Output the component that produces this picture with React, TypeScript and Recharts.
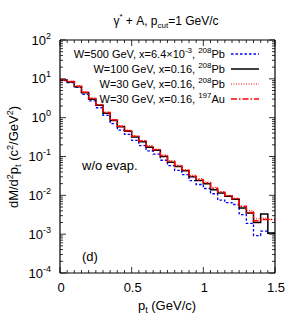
import { ComposedChart, Line, XAxis, YAxis } from 'recharts';

// bin edges in p_t (GeV/c), histogram bins of 0.05
const ptEdges = [
  0, 0.05, 0.1, 0.15, 0.2, 0.25, 0.3, 0.35, 0.4, 0.45, 0.5, 0.55, 0.6, 0.65, 0.7, 0.75,
  0.8, 0.85, 0.9, 0.95, 1, 1.05, 1.1, 1.15, 1.2, 1.25, 1.3, 1.35, 1.4, 1.45, 1.5,
];

// dM/d^2p_t per bin
const w500Pb = [
  9.0, 8.0, 6.0, 4.0, 2.7, 1.8, 1.15, 0.7, 0.48, 0.37, 0.26, 0.19, 0.14, 0.115, 0.08,
  0.058, 0.044, 0.034, 0.024, 0.019, 0.015, 0.011, 0.0075, 0.0065, 0.0058, 0.0032, 0.0019,
  0.00092, 0.0012, 0.00105,
];
const w100Pb = [
  9.3, 8.3, 6.3, 4.4, 3.0, 2.1, 1.3, 0.85, 0.58, 0.45, 0.32, 0.24, 0.174, 0.145, 0.1,
  0.071, 0.055, 0.043, 0.03, 0.024, 0.02, 0.014, 0.0115, 0.0095, 0.0079, 0.0047, 0.0035,
  0.002, 0.0033, 0.00107,
];
const w30Pb = [
  9.5, 8.6, 6.6, 4.6, 3.2, 2.2, 1.4, 0.9, 0.62, 0.48, 0.34, 0.26, 0.19, 0.155, 0.11,
  0.078, 0.06, 0.046, 0.033, 0.027, 0.022, 0.016, 0.0125, 0.01, 0.0085, 0.0052, 0.004,
  0.0025, 0.0026, 0.0024,
];
const w30Au = [
  9.4, 8.5, 6.4, 4.5, 3.1, 2.15, 1.35, 0.87, 0.6, 0.46, 0.33, 0.25, 0.18, 0.15, 0.105,
  0.074, 0.057, 0.044, 0.031, 0.025, 0.021, 0.015, 0.012, 0.0098, 0.0082, 0.0052, 0.0036,
  0.0022, 0.0024, 0.0024,
];

const yDecades = [1e-4, 1e-3, 1e-2, 1e-1, 1, 10, 100];
const yExponents = ['-4', '-3', '-2', '-1', '0', '1', '2'];
const xMajor = [0, 0.5, 1, 1.5];
const xLabels = ['0', '0.5', '1', '1.5'];

const W = 300;
const H = 332;
const FONT = '"Liberation Sans", Arial, sans-serif';

const nBins = w100Pb.length;
const rows = ptEdges.map((pt, i) => {
  const j = Math.min(i, nBins - 1);
  return { pt, a: w500Pb[j], b: w100Pb[j], c: w30Pb[j], d: w30Au[j] };
});

const yTicks: number[] = [];
yDecades.forEach((d, i) => {
  if (i === yDecades.length - 1) {
    yTicks.push(d);
    return;
  }
  for (let k = 1; k <= 9; k++) yTicks.push(k * d);
});

const majorY = (v: number) => yDecades.findIndex((d) => Math.abs(v / d - 1) < 1e-6);
const majorX = (v: number) => xMajor.findIndex((d) => Math.abs(v - d) < 1e-6);

const LeftTick = (props: any) => {
  const { x, y, payload } = props;
  const idx = majorY(payload.value);
  const len = idx >= 0 ? 6 : 3;
  return (
    <g>
      <line x1={x} x2={x + len} y1={y} y2={y} stroke="#000" strokeWidth={0.8} />
      {idx >= 0 && (
        <text x={x - 9} y={y + 4.5} textAnchor="end" fontSize={13} fontFamily={FONT} fill="#000">
          10<tspan dy={-6} fontSize={9}>{yExponents[idx]}</tspan>
        </text>
      )}
    </g>
  );
};

const RightTick = (props: any) => {
  const { x, y, payload } = props;
  const len = majorY(payload.value) >= 0 ? 6 : 3;
  return <line x1={x} x2={x - len} y1={y} y2={y} stroke="#000" strokeWidth={0.8} />;
};

const BottomTick = (props: any) => {
  const { x, y, payload } = props;
  const idx = majorX(payload.value);
  const len = idx >= 0 ? 6 : 3;
  return (
    <g>
      <line x1={x} x2={x} y1={y} y2={y - len} stroke="#000" strokeWidth={0.8} />
      {idx >= 0 && (
        <text x={x + 1} y={y + 19} textAnchor="middle" fontSize={13} fontFamily={FONT} fill="#000">
          {xLabels[idx]}
        </text>
      )}
    </g>
  );
};

const TopTick = (props: any) => {
  const { x, y, payload } = props;
  const len = majorX(payload.value) >= 0 ? 6 : 3;
  return <line x1={x} x2={x} y1={y} y2={y + len} stroke="#000" strokeWidth={0.8} />;
};

const legendRows = [
  { key: 'a', stroke: '#0000ff', dash: '2.5 2', width: 1.3, pre: 'W=500 GeV, x=6.4×10', exp: '-3', iso: '208', el: 'Pb' },
  { key: 'b', stroke: '#000000', dash: undefined, width: 1.5, pre: 'W=100 GeV, x=0.16', exp: '', iso: '208', el: 'Pb' },
  { key: 'c', stroke: '#ff0000', dash: '1 1.5', width: 1, pre: 'W=30 GeV, x=0.16', exp: '', iso: '208', el: 'Pb' },
  { key: 'd', stroke: '#ff0000', dash: '6 2 1.5 2', width: 1.5, pre: 'W=30 GeV, x=0.16', exp: '', iso: '197', el: 'Au' },
];

const LegendBox = () => (
  <div
    style={{
      position: 'absolute',
      top: 46,
      left: 40,
      width: 224,
      fontFamily: FONT,
      fontSize: 11,
      color: '#000',
      lineHeight: 1,
    }}
  >
    {legendRows.map((r) => (
      <div key={r.key} style={{ display: 'flex', alignItems: 'center', height: 15, justifyContent: 'flex-end' }}>
        <span style={{ whiteSpace: 'nowrap' }}>
          {r.pre}
          {r.exp && <sup style={{ fontSize: 8 }}>{r.exp}</sup>}, <sup style={{ fontSize: 8 }}>{r.iso}</sup>
          {r.el}
        </span>
        <svg width={34} height={10} style={{ marginLeft: 5 }}>
          <line x1={1} x2={29} y1={5} y2={5} stroke={r.stroke} strokeWidth={r.width} strokeDasharray={r.dash} />
        </svg>
      </div>
    ))}
  </div>
);

export default function App() {
  return (
    <div style={{ position: 'absolute', left: 0, top: 0, width: W, height: H, background: '#fff' }}>
      <ComposedChart width={W} height={H} data={rows} margin={{ top: 30, right: 15, bottom: 29, left: 10 }}>
        <XAxis
          xAxisId="b"
          dataKey="pt"
          type="number"
          domain={[0, 1.5]}
          ticks={ptEdges}
          interval={0}
          height={30}
          tickSize={0}
          tickMargin={0}
          tickLine={false}
          tick={BottomTick}
          axisLine={{ stroke: '#000', strokeWidth: 1.2 }}
          allowDataOverflow
        />
        <XAxis
          xAxisId="t"
          orientation="top"
          dataKey="pt"
          type="number"
          domain={[0, 1.5]}
          ticks={ptEdges}
          interval={0}
          height={10}
          tickSize={0}
          tickMargin={0}
          tickLine={false}
          tick={TopTick}
          axisLine={{ stroke: '#000', strokeWidth: 1.2 }}
          allowDataOverflow
        />
        <YAxis
          yAxisId="l"
          type="number"
          scale="log"
          domain={[1e-4, 100]}
          ticks={yTicks}
          interval={0}
          width={50}
          tickSize={0}
          tickMargin={0}
          tickLine={false}
          tick={LeftTick}
          axisLine={{ stroke: '#000', strokeWidth: 1.2 }}
          allowDataOverflow
        />
        <YAxis
          yAxisId="r"
          orientation="right"
          type="number"
          scale="log"
          domain={[1e-4, 100]}
          ticks={yTicks}
          interval={0}
          width={10}
          tickSize={0}
          tickMargin={0}
          tickLine={false}
          tick={RightTick}
          axisLine={{ stroke: '#000', strokeWidth: 1.2 }}
          allowDataOverflow
        />
        <Line xAxisId="b" yAxisId="l" type="stepAfter" dataKey="a" stroke="#0000ff" strokeWidth={1.3} strokeDasharray="2.5 2" dot={false} isAnimationActive={false} />
        <Line xAxisId="b" yAxisId="l" type="stepAfter" dataKey="b" stroke="#000000" strokeWidth={1.5} dot={false} isAnimationActive={false} />
        <Line xAxisId="b" yAxisId="l" type="stepAfter" dataKey="c" stroke="#ff0000" strokeWidth={1} strokeDasharray="1 1.5" dot={false} isAnimationActive={false} />
        <Line xAxisId="b" yAxisId="l" type="stepAfter" dataKey="d" stroke="#ff0000" strokeWidth={1.5} strokeDasharray="6 2 1.5 2" dot={false} isAnimationActive={false} />
      </ComposedChart>
      <LegendBox />
      <svg
        width={W}
        height={H}
        style={{ position: 'absolute', left: 0, top: 0, pointerEvents: 'none' }}
        fontFamily={FONT}
      >
        <text x={166} y={25} textAnchor="middle" fontSize={12}>
          γ<tspan dy={-6} fontSize={8}>*</tspan>
          <tspan dy={6}> + A, p</tspan>
          <tspan dy={3} fontSize={8}>cut</tspan>
          <tspan dy={-3}>=1 GeV/c</tspan>
        </text>
        <text x={82} y={170} fontSize={13}>w/o evap.</text>
        <text x={82} y={261} fontSize={13}>(d)</text>
        <text x={167} y={310} textAnchor="middle" fontSize={13}>
          p<tspan dy={3} fontSize={9}>t</tspan>
          <tspan dy={-3}> (GeV/c)</tspan>
        </text>
        <text transform="translate(18,157) rotate(-90)" textAnchor="middle" fontSize={13}>
          dM/d<tspan dy={-5} fontSize={9}>2</tspan>
          <tspan dy={5}>p</tspan>
          <tspan dy={3} fontSize={9}>t</tspan>
          <tspan dy={-3}> (c</tspan>
          <tspan dy={-5} fontSize={9}>2</tspan>
          <tspan dy={5}>/GeV</tspan>
          <tspan dy={-5} fontSize={9}>2</tspan>
          <tspan dy={5}>)</tspan>
        </text>
      </svg>
    </div>
  );
}
